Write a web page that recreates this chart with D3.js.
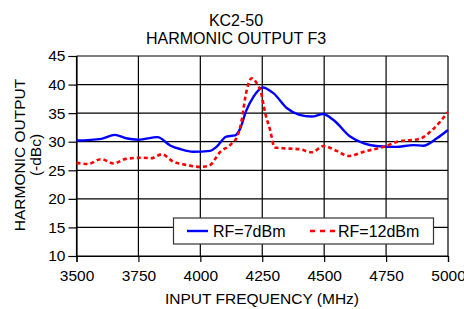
<!DOCTYPE html>
<html>
<head>
<meta charset="utf-8">
<script src="https://cdn.jsdelivr.net/npm/d3@7"></script>
<style>
    html, body { margin: 0; padding: 0; background: #fff; }
    svg { display: block; font-family: "Liberation Sans", Arial, sans-serif; }
</style>
</head>
<body>
<div id="chart"></div>
<script>
// chart data
var titleLines = ['KC2-50', 'HARMONIC OUTPUT F3'];
var xTicks = [3500, 3750, 4000, 4250, 4500, 4750, 5000];
var yTicks = [10, 15, 20, 25, 30, 35, 40, 45];
var seriesNames = ['RF=7dBm', 'RF=12dBm'];

var freq7dBm = [3500, 3600, 3655, 3700, 3750, 3827, 3880, 3920, 3970, 4040, 4065, 4105, 4140, 4160, 4185, 4215, 4252,
    4295, 4350, 4400, 4450, 4495, 4540, 4605, 4660, 4710, 4790, 4860, 4900, 4955, 5000];
var harm7dBm = [30.2, 30.5, 31.2, 30.6, 30.35, 30.8, 29.3, 28.7, 28.25, 28.4, 29.1, 30.9, 31.1, 32.2, 35.4, 37.9, 39.5,
    38.5, 35.85, 34.7, 34.4, 34.85, 33.7, 30.9, 29.7, 29.25, 29.1, 29.4, 29.3, 30.6, 32.05];

var freq12dBm = [3500, 3545, 3600, 3650, 3700, 3770, 3800, 3845, 3890, 3930, 4000, 4035, 4080, 4122, 4150, 4167, 4182, 4207,
    4228, 4245, 4262, 4282, 4300, 4335, 4400, 4450, 4497, 4550, 4600, 4660, 4750, 4795, 4885, 4935, 5000];
var harm12dBm = [26.3, 26.1, 26.95, 26.2, 27.0, 27.2, 27.1, 27.8, 26.5, 26.05, 25.6, 25.8, 28.2, 29.5, 31.0, 33.8, 37.9, 41.1,
    40.2, 38.6, 35.0, 32.0, 29.0, 28.85, 28.7, 28.15, 29.25, 28.4, 27.5, 28.25, 29.25, 30.0, 30.5, 32.0, 35.2];

var width = 464, height = 309;
var margin = { top: 56, right: 16, bottom: 53, left: 76.5 };
var plotW = width - margin.left - margin.right;
var plotH = height - margin.top - margin.bottom;

var svg = d3.select('#chart').append('svg')
    .attr('width', width)
    .attr('height', height);

svg.append('rect').attr('width', width).attr('height', height).attr('fill', '#fff');

var xScale = d3.scaleLinear().domain([3500, 5000]).range([0, plotW]);
var yScale = d3.scaleLinear().domain([10, 45]).range([plotH, 0]);

var plot = svg.append('g').attr('transform', 'translate(' + margin.left + ',' + margin.top + ')');

// grid
plot.append('g').attr('class', 'hgrid').selectAll('line').data(yTicks).enter().append('line')
    .attr('x1', 0).attr('x2', plotW)
    .attr('y1', function (d) { return yScale(d); })
    .attr('y2', function (d) { return yScale(d); })
    .attr('stroke', '#000').attr('stroke-width', 1.2);

plot.append('g').attr('class', 'vgrid').selectAll('line').data(xTicks).enter().append('line')
    .attr('x1', function (d) { return xScale(d); })
    .attr('x2', function (d) { return xScale(d); })
    .attr('y1', 0).attr('y2', plotH)
    .attr('stroke', '#000').attr('stroke-width', 1.2);

// axes
var xAxis = d3.axisBottom(xScale).tickValues(xTicks).tickFormat(d3.format('d')).tickSize(6).tickPadding(4);
var yAxis = d3.axisLeft(yScale).tickValues(yTicks).tickFormat(d3.format('d')).tickSize(8).tickPadding(3);

var gx = plot.append('g').attr('transform', 'translate(0,' + plotH + ')').call(xAxis);
var gy = plot.append('g').call(yAxis);

[gx, gy].forEach(function (g) {
    g.select('.domain').attr('stroke', '#000').attr('stroke-width', 1.2);
    g.selectAll('.tick line').attr('stroke', '#000').attr('stroke-width', 1.2);
    g.selectAll('.tick text').attr('fill', '#000')
        .style('font-family', '"Liberation Sans", Arial, sans-serif')
        .style('font-size', '15.5px');
});
gx.selectAll('.tick text').attr('dy', '0.95em');

// curves
var line = d3.line()
    .x(function (d) { return xScale(d[0]); })
    .y(function (d) { return yScale(d[1]); })
    .curve(d3.curveMonotoneX);

var blueData = freq7dBm.map(function (f, i) { return [f, harm7dBm[i]]; });
var redData = freq12dBm.map(function (f, i) { return [f, harm12dBm[i]]; });

plot.append('path').datum(blueData)
    .attr('d', line)
    .attr('fill', 'none')
    .attr('stroke', '#0000ff')
    .attr('stroke-width', 2.4);

plot.append('path').datum(redData)
    .attr('d', line)
    .attr('fill', 'none')
    .attr('stroke', '#ff0000')
    .attr('stroke-width', 2.6)
    .attr('stroke-dasharray', '4,3');

// legend
var legend = svg.append('g').attr('class', 'legend');
legend.append('rect')
    .attr('x', 173.5).attr('y', 218)
    .attr('width', 260).attr('height', 26)
    .attr('fill', '#fff').attr('stroke', '#333').attr('stroke-width', 1.2);

legend.append('line')
    .attr('x1', 187).attr('x2', 208).attr('y1', 231).attr('y2', 231)
    .attr('stroke', '#0000ff').attr('stroke-width', 2.4);
legend.append('text').attr('x', 213).attr('y', 237)
    .style('font-size', '16px').text(seriesNames[0]);

legend.append('line')
    .attr('x1', 310).attr('x2', 335).attr('y1', 231).attr('y2', 231)
    .attr('stroke', '#ff0000').attr('stroke-width', 2.6)
    .attr('stroke-dasharray', '5,5');
legend.append('text').attr('x', 338).attr('y', 237)
    .style('font-size', '16px').text(seriesNames[1]);

// titles
svg.append('g').selectAll('text').data(titleLines).enter().append('text')
    .attr('x', 236)
    .attr('y', function (d, i) { return 26 + i * 18; })
    .attr('text-anchor', 'middle')
    .style('font-size', '16px')
    .text(function (d) { return d; });

svg.append('text')
    .attr('x', 262).attr('y', 304)
    .attr('text-anchor', 'middle')
    .style('font-size', '15.5px')
    .text('INPUT FREQUENCY (MHz)');

var yTitle = svg.append('text')
    .attr('transform', 'translate(0,' + (margin.top + plotH / 2 - 1) + ') rotate(-90)')
    .attr('text-anchor', 'middle')
    .style('font-size', '15.5px');
yTitle.append('tspan').attr('x', 0).attr('y', 25).text('HARMONIC OUTPUT');
yTitle.append('tspan').attr('x', 0).attr('y', 41).text('(-dBc)');
</script>
</body>
</html>
